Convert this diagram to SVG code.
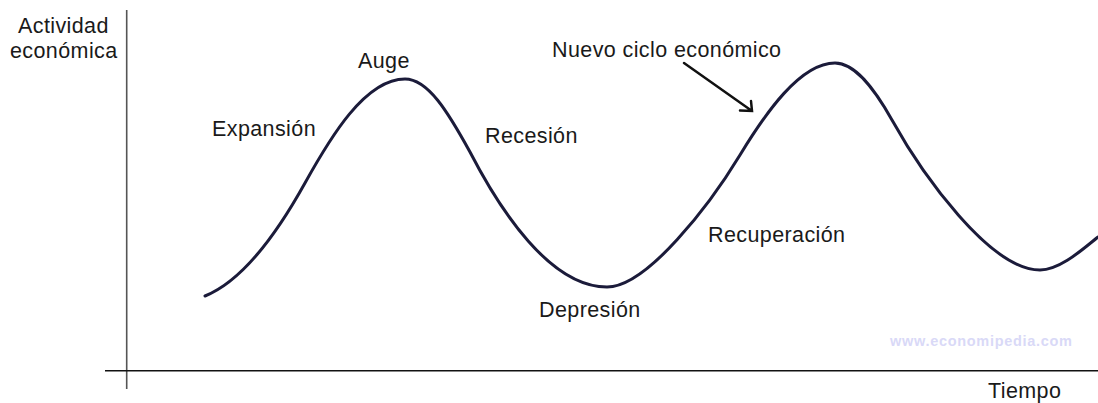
<svg xmlns="http://www.w3.org/2000/svg" width="1098" height="403" viewBox="0 0 1098 403">
<style>
.lbl{font-family:"Liberation Sans",Arial,sans-serif;font-size:21.5px;fill:#1a1a1a;letter-spacing:0.4px}
.wm{font-family:"Liberation Sans",Arial,sans-serif;font-size:14.5px;font-weight:bold;fill:#d9d9f7;letter-spacing:0.7px}
.curve{fill:none;stroke:#1b1b3a;stroke-width:3;stroke-linecap:round;stroke-linejoin:round}
.arrow{fill:none;stroke:#111;stroke-width:2.5;stroke-linecap:round;stroke-linejoin:miter}
</style>
<rect width="1098" height="403" fill="#fff"/>
<g id="axes">
<line x1="126.7" y1="10" x2="126.7" y2="389" stroke="#555" stroke-width="1.6"/>
<line x1="105" y1="370.7" x2="1098" y2="370.7" stroke="#111" stroke-width="1.6"/>
</g>
<g id="cycle-curve">
<path class="curve" d="M205,296 C245,280 280,228 305,183 C330,138 365,79 405,79 C428,79 448,112 470,152 C500,210 550,287 607,287 C647,287 710,204.5 740,155 C765,114 800,63 835,63 C855,63 874,88 892,120 C922,174 990,270 1040,270 C1060,270 1083,249 1098,237"/>
</g>
<g id="connectors">
<path class="arrow" d="M684,63 L752,111 M740,110.5 L752,111 L751,101"/>
</g>
<g id="label-y-axis">
<text class="lbl" x="18" y="33">Actividad</text>
<text class="lbl" x="10" y="58">económica</text>
</g>
<g id="label-auge"><text class="lbl" x="358" y="68">Auge</text></g>
<g id="label-expansion"><text class="lbl" x="212" y="136">Expansión</text></g>
<g id="label-recesion"><text class="lbl" x="485" y="143">Recesión</text></g>
<g id="label-depresion"><text class="lbl" x="539" y="317">Depresión</text></g>
<g id="label-recuperacion"><text class="lbl" x="708" y="242">Recuperación</text></g>
<g id="label-nuevo-ciclo"><text class="lbl" x="552" y="57">Nuevo ciclo económico</text></g>
<g id="label-tiempo"><text class="lbl" x="988" y="398">Tiempo</text></g>
<g id="watermark"><text class="wm" x="890" y="346">www.economipedia.com</text></g>
</svg>
